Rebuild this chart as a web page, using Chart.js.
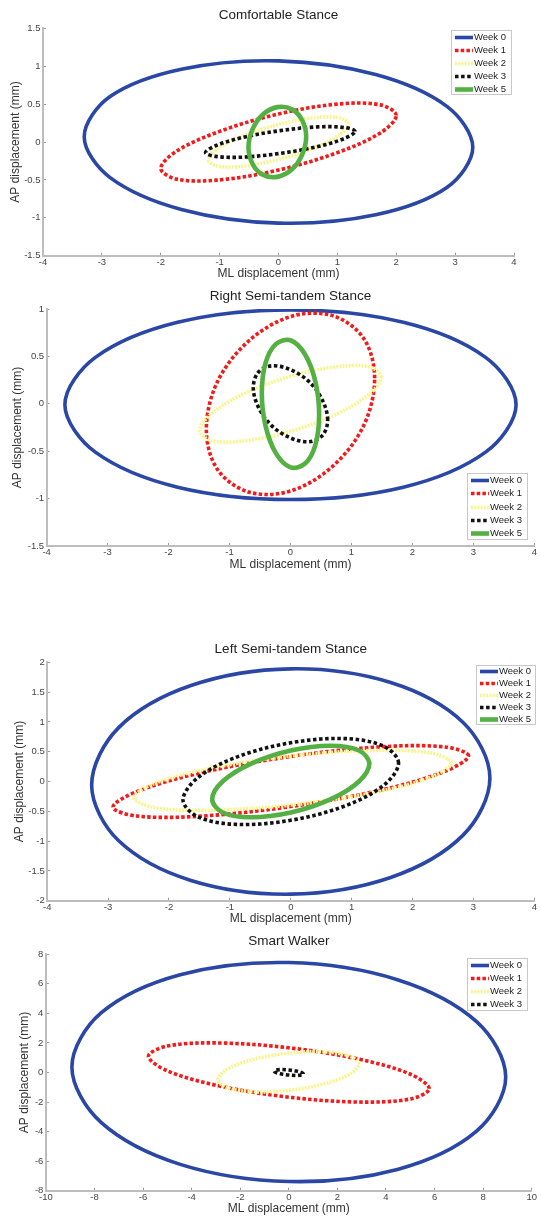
<!DOCTYPE html>
<html>
<head>
<meta charset="utf-8">
<script src="https://cdn.jsdelivr.net/npm/chart.js@4.4.1/dist/chart.umd.min.js"></script>
<style>
  html, body { margin: 0; padding: 0; background: #fff; overflow: hidden; width: 541px; height: 1216px; }
  canvas { position: absolute; left: 0; }
</style>
</head>
<body>
<script>
// Ellipse outlines, 12 points each, in mm (ML = x, AP = y)

// Comfortable Stance
var comfW0x = [3.30, 2.86, 1.65, 0, -1.65, -2.86, -3.30, -2.86, -1.65, 0, 1.65, 2.86];
var comfW0y = [-0.07, 0.47, 0.89, 1.07, 0.96, 0.60, 0.07, -0.47, -0.89, -1.07, -0.96, -0.60];
var comfW1x = [2.00, 1.73, 1.00, 0, -1.00, -1.73, -2.00, -1.73, -1.00, 0, 1.00, 1.73];
var comfW1y = [0.35, 0.49, 0.50, 0.37, 0.14, -0.12, -0.35, -0.49, -0.50, -0.37, -0.14, 0.12];
var comfW2x = [1.19, 1.03, 0.60, 0, -0.60, -1.03, -1.19, -1.03, -0.60, 0, 0.60, 1.03];
var comfW2y = [0.24, 0.32, 0.32, 0.23, 0.08, -0.09, -0.24, -0.32, -0.32, -0.23, -0.08, 0.09];
var comfW3x = [1.30, 1.13, 0.67, 0.03, -0.61, -1.07, -1.24, -1.07, -0.61, 0.03, 0.67, 1.13];
var comfW3y = [0.14, 0.19, 0.20, 0.15, 0.06, -0.05, -0.14, -0.19, -0.20, -0.15, -0.06, 0.05];
var comfW5x = [0.47, 0.40, 0.23, -0.02, -0.27, -0.44, -0.51, -0.44, -0.27, -0.02, 0.23, 0.40];
var comfW5y = [0.07, 0.29, 0.43, 0.46, 0.36, 0.17, -0.07, -0.29, -0.43, -0.46, -0.36, -0.17];

// Right Semi-tandem Stance
var rightW0x = [3.70, 3.20, 1.85, 0, -1.85, -3.20, -3.70, -3.20, -1.85, 0, 1.85, 3.20];
var rightW0y = [-0.01, 0.49, 0.86, 0.99, 0.86, 0.49, -0.01, -0.51, -0.88, -1.01, -0.88, -0.51];
var rightW1x = [1.38, 1.20, 0.69, 0, -0.69, -1.20, -1.38, -1.20, -0.69, 0, 0.69, 1.20];
var rightW1y = [0.27, 0.69, 0.93, 0.92, 0.66, 0.23, -0.27, -0.69, -0.93, -0.92, -0.66, -0.23];
var rightW2x = [1.49, 1.29, 0.75, 0, -0.75, -1.29, -1.49, -1.29, -0.75, 0, 0.75, 1.29];
var rightW2y = [0.28, 0.39, 0.39, 0.29, 0.11, -0.10, -0.28, -0.39, -0.39, -0.29, -0.11, 0.10];
var rightW3x = [0.61, 0.53, 0.31, 0, -0.31, -0.53, -0.61, -0.53, -0.31, 0, 0.31, 0.53];
var rightW3y = [-0.17, 0.03, 0.23, 0.36, 0.40, 0.33, 0.17, -0.03, -0.23, -0.36, -0.40, -0.33];
var rightW5x = [0.47, 0.41, 0.24, 0, -0.24, -0.41, -0.47, -0.41, -0.24, 0, 0.24, 0.41];
var rightW5y = [-0.11, 0.23, 0.52, 0.67, 0.63, 0.43, 0.11, -0.23, -0.52, -0.67, -0.63, -0.43];

// Left Semi-tandem Stance
var leftW0x = [3.27, 2.83, 1.64, 0, -1.64, -2.83, -3.27, -2.83, -1.64, 0, 1.64, 2.83];
var leftW0y = [0.06, 0.99, 1.66, 1.89, 1.61, 0.90, -0.06, -0.99, -1.66, -1.89, -1.61, -0.90];
var leftW1x = [2.92, 2.53, 1.46, 0, -1.46, -2.53, -2.92, -2.53, -1.46, 0, 1.46, 2.53];
var leftW1y = [0.43, 0.58, 0.58, 0.42, 0.15, -0.17, -0.43, -0.58, -0.58, -0.42, -0.15, 0.17];
var leftW2x = [2.64, 2.29, 1.34, 0.03, -1.28, -2.23, -2.58, -2.23, -1.28, 0.03, 1.34, 2.29];
var leftW2y = [0.31, 0.48, 0.52, 0.43, 0.23, -0.03, -0.27, -0.44, -0.48, -0.39, -0.19, 0.07];
var leftW3x = [1.77, 1.53, 0.89, 0, -0.89, -1.53, -1.77, -1.53, -0.89, 0, 0.89, 1.53];
var leftW3y = [0.31, 0.59, 0.72, 0.65, 0.41, 0.06, -0.31, -0.59, -0.72, -0.65, -0.41, -0.06];
var leftW5x = [1.29, 1.12, 0.65, 0, -0.65, -1.12, -1.29, -1.12, -0.65, 0, 0.65, 1.12];
var leftW5y = [0.30, 0.52, 0.60, 0.52, 0.30, 0, -0.30, -0.52, -0.60, -0.52, -0.30, 0];

// Smart Walker
var walkW0x = [8.93, 7.73, 4.47, 0, -4.47, -7.73, -8.93, -7.73, -4.47, 0, 4.47, 7.73];
var walkW0y = [-0.31, 3.44, 6.28, 7.44, 6.62, 4.03, 0.37, -3.38, -6.22, -7.38, -6.56, -3.97];
var walkW1x = [5.78, 5.01, 2.89, 0, -2.89, -5.01, -5.78, -5.01, -2.89, 0, 2.89, 5.01];
var walkW1y = [-1.10, -0.12, 0.90, 1.67, 2.00, 1.79, 1.10, 0.12, -0.90, -1.67, -2.00, -1.79];
var walkW2x = [2.88, 2.49, 1.43, -0.02, -1.47, -2.53, -2.92, -2.53, -1.47, -0.02, 1.43, 2.49];
var walkW2y = [0.57, 1.13, 1.40, 1.31, 0.88, 0.23, -0.47, -1.03, -1.30, -1.21, -0.78, -0.13];
var walkW3x = [0.60, 0.52, 0.30, 0, -0.30, -0.52, -0.60, -0.52, -0.30, 0, 0.30, 0.52];
var walkW3y = [-0.10, 0, 0.10, 0.17, 0.20, 0.17, 0.10, 0, -0.10, -0.17, -0.20, -0.17];

// tick values
var stanceXTicks = [-4, -3, -2, -1, 0, 1, 2, 3, 4];
var walkXTicks = [-10, -8, -6, -4, -2, 0, 2, 4, 6, 8, 10];
var comfYTicks = [-1.5, -1, -0.5, 0, 0.5, 1, 1.5];
var rightYTicks = [-1.5, -1, -0.5, 0, 0.5, 1];
var leftYTicks = [-2, -1.5, -1, -0.5, 0, 0.5, 1, 1.5, 2];
var walkYTicks = [-8, -6, -4, -2, 0, 2, 4, 6, 8];

var weeksAll = ['Week 0', 'Week 1', 'Week 2', 'Week 3', 'Week 5'];
var weeksWalker = ['Week 0', 'Week 1', 'Week 2', 'Week 3'];

// MATLAB-ish line styles per week
var weekStyle = {
    'Week 0': { color: '#2a47a5', width: 3.6, dash: [] },
    'Week 1': { color: '#f21a1a', width: 3.6, dash: [3.5, 2.2] },
    'Week 2': { color: '#f9f58e', width: 3.6, dash: [2, 1.2] },
    'Week 3': { color: '#111111', width: 3.6, dash: [3.5, 2.6] },
    'Week 5': { color: '#55b043', width: 4.6, dash: [] }
};

var FONT = "'Liberation Sans', Arial, Helvetica, sans-serif";
var TITLE_PX = 13.5, AXIS_PX = 12, TICK_PX = 9.5, LEGEND_PX = 9.5;
var AXIS_GREY = '#bdbdbd';

Chart.defaults.font.family = FONT;
Chart.defaults.color = '#444';

// panels: page-pixel placement of each axes box (layout only, no data)
var panels = [
    { title: 'Comfortable Stance', labels: weeksAll, xTicks: stanceXTicks, yTicks: comfYTicks,
      xs: [comfW0x, comfW1x, comfW2x, comfW3x, comfW5x], ys: [comfW0y, comfW1y, comfW2y, comfW3y, comfW5y],
      box: { titleY: 15, left: 43, right: 514, top: 28.3, bottom: 255, xlabelY: 273.3, ylabelX: 15.5 },
      legend: { x: 451, y: 30, w: 61, h: 65 } },
    { title: 'Right Semi-tandem Stance', labels: weeksAll, xTicks: stanceXTicks, yTicks: rightYTicks,
      xs: [rightW0x, rightW1x, rightW2x, rightW3x, rightW5x], ys: [rightW0y, rightW1y, rightW2y, rightW3y, rightW5y],
      box: { titleY: 296, left: 46.6, right: 538.6, top: 309, bottom: 546, xlabelY: 565, ylabelX: 17.2 },
      legend: { x: 467, y: 473, w: 61, h: 67 } },
    { title: 'Left Semi-tandem Stance', labels: weeksAll, xTicks: stanceXTicks, yTicks: leftYTicks,
      xs: [leftW0x, leftW1x, leftW2x, leftW3x, leftW5x], ys: [leftW0y, leftW1y, leftW2y, leftW3y, leftW5y],
      box: { titleY: 649, left: 47.2, right: 537.9, top: 662.3, bottom: 900, xlabelY: 918.3, ylabelX: 19.7 },
      legend: { x: 476, y: 665, w: 60, h: 60 } },
    { title: 'Smart Walker', labels: weeksWalker, xTicks: walkXTicks, yTicks: walkYTicks,
      xs: [walkW0x, walkW1x, walkW2x, walkW3x], ys: [walkW0y, walkW1y, walkW2y, walkW3y],
      box: { titleY: 941, left: 45.9, right: 532, top: 954.3, bottom: 1190, xlabelY: 1208.3, ylabelX: 24.8 },
      legend: { x: 467, y: 958, w: 61, h: 53 } }
];

// repeat neighbours at both ends so the spline closes smoothly
function closedLoop(xs, ys) {
    var n = xs.length, idx = [n - 1];
    for (var i = 0; i < n; i++) idx.push(i);
    idx.push(0, 1);
    return idx.map(function(k) { return { x: xs[k], y: ys[k] }; });
}

// legend drawn inside the axes, like MATLAB's
var matLegend = {
    id: 'matLegend',
    afterDraw: function(chart, args, o) {
        var ctx = chart.ctx, sets = chart.data.datasets;
        var rowH = o.h / sets.length;
        ctx.save();
        ctx.fillStyle = '#fff';
        ctx.fillRect(o.x, o.y, o.w, o.h);
        ctx.strokeStyle = '#c8c8c8';
        ctx.lineWidth = 1;
        ctx.strokeRect(Math.round(o.x) + 0.5, Math.round(o.y) + 0.5, Math.round(o.w) - 1, Math.round(o.h) - 1);
        ctx.font = LEGEND_PX + 'px ' + FONT;
        ctx.textBaseline = 'middle';
        ctx.textAlign = 'left';
        sets.forEach(function(ds, i) {
            var cy = Math.round(o.y + rowH * (i + 0.5)) + 0.5;
            ctx.beginPath();
            ctx.setLineDash(ds.borderDash || []);
            ctx.lineWidth = ds.borderWidth;
            ctx.strokeStyle = ds.borderColor;
            ctx.moveTo(o.x + 4, cy);
            ctx.lineTo(o.x + 22, cy);
            ctx.stroke();
            ctx.setLineDash([]);
            ctx.fillStyle = '#222';
            ctx.fillText(ds.label, o.x + 23, cy);
        });
        ctx.restore();
    }
};

function buildPanel(p) {
    var b = p.box;
    var top = Math.round(b.titleY - 5 - TITLE_PX * 0.6);
    var xAxisH = b.xlabelY - b.bottom + 10;
    var height = Math.ceil(b.bottom - top + xAxisH);

    var canvas = document.createElement('canvas');
    canvas.width = 541;
    canvas.height = height;
    canvas.style.top = top + 'px';
    document.body.appendChild(canvas);

    var datasets = p.labels.map(function(lbl, i) {
        var st = weekStyle[lbl];
        var pts = closedLoop(p.xs[i], p.ys[i]);
        var last = pts.length - 1;
        return {
            label: lbl, data: pts, showLine: true, fill: false,
            pointRadius: 0, pointHoverRadius: 0, tension: 0.34,
            borderColor: st.color, borderWidth: st.width, borderDash: st.dash,
            order: p.labels.length - i,
            segment: {
                borderColor: function(c) {
                    return (c.p0DataIndex === 0 || c.p1DataIndex === last) ? 'rgba(0,0,0,0)' : undefined;
                }
            }
        };
    });

    function tickSetter(arr) {
        return function(scale) { scale.ticks = arr.map(function(v) { return { value: v }; }); };
    }

    new Chart(canvas, {
        type: 'scatter',
        data: { datasets: datasets },
        plugins: [matLegend],
        options: {
            responsive: false, animation: false, devicePixelRatio: 1, events: [],
            layout: { padding: { top: b.titleY - top - TITLE_PX * 0.6, left: 0, right: 541 - b.right, bottom: 0 } },
            plugins: {
                legend: { display: false },
                tooltip: { enabled: false },
                title: {
                    display: true, text: p.title, fullSize: false, color: '#222',
                    font: { size: TITLE_PX, weight: 'normal' },
                    padding: { top: 0, bottom: b.top - b.titleY - TITLE_PX * 0.6 }
                },
                matLegend: {
                    x: p.legend.x, y: p.legend.y - top, w: p.legend.w, h: p.legend.h
                }
            },
            scales: {
                x: {
                    type: 'linear', min: p.xTicks[0], max: p.xTicks[p.xTicks.length - 1],
                    afterBuildTicks: tickSetter(p.xTicks),
                    afterFit: function(s) { s.height = xAxisH; },
                    grid: { drawOnChartArea: false, drawTicks: true, tickLength: -3, color: '#999', lineWidth: 1 },
                    border: { display: true, color: AXIS_GREY, width: 2 },
                    ticks: { padding: 4, autoSkip: false, maxRotation: 0, color: '#444', font: { size: TICK_PX },
                             callback: function(v) { return String(v); } },
                    title: { display: true, text: 'ML displacement (mm)', color: '#333', font: { size: AXIS_PX },
                             padding: { top: 0, bottom: 3.1 } }
                },
                y: {
                    type: 'linear', min: p.yTicks[0], max: p.yTicks[p.yTicks.length - 1],
                    afterBuildTicks: tickSetter(p.yTicks),
                    afterFit: function(s) { s.width = b.left; },
                    grid: { drawOnChartArea: false, drawTicks: true, tickLength: -3, color: '#999', lineWidth: 1 },
                    border: { display: true, color: AXIS_GREY, width: 2 },
                    ticks: { padding: 5.5, autoSkip: false, color: '#444', font: { size: TICK_PX },
                             callback: function(v) { return String(v); } },
                    title: { display: true, text: 'AP displacement (mm)', color: '#333', font: { size: AXIS_PX },
                             padding: { top: b.ylabelX - AXIS_PX * 0.6, bottom: 0 } }
                }
            }
        }
    });
}

panels.forEach(buildPanel);
</script>
</body>
</html>
